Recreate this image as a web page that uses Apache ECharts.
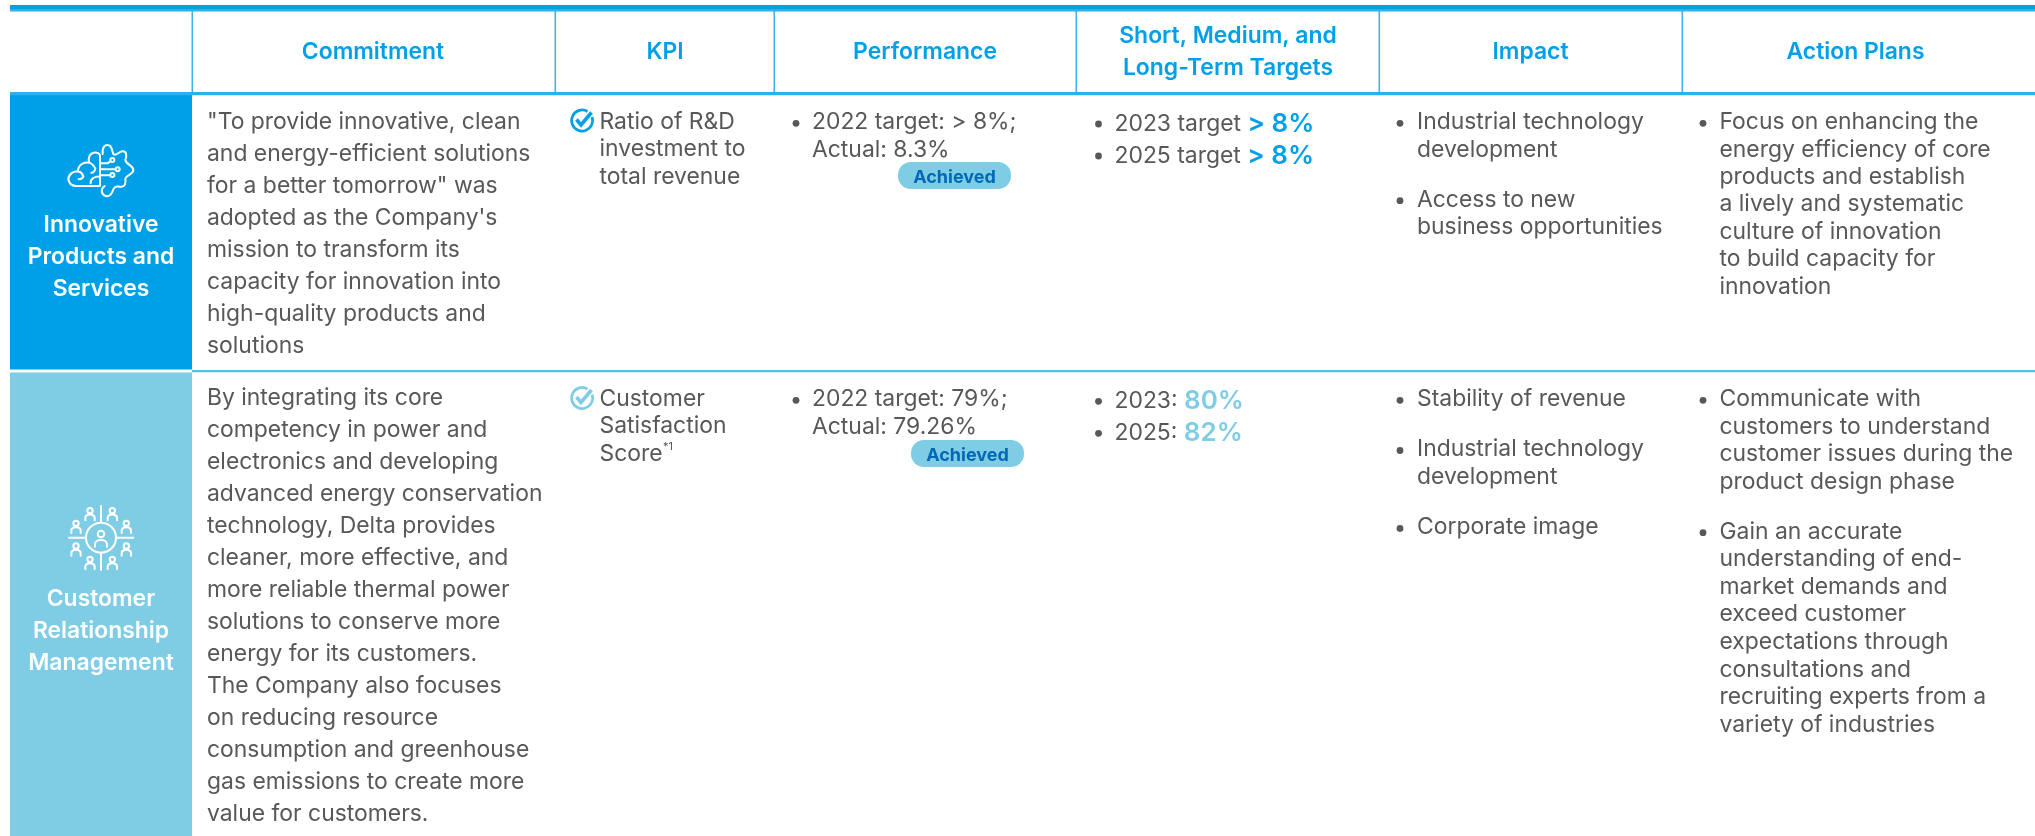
<!DOCTYPE html>
<html><head><meta charset="utf-8">
<style>html,body{margin:0;padding:0;background:#fff}#c{width:2035px;height:836px}</style>
<script src="https://cdn.jsdelivr.net/npm/echarts@6/dist/echarts.min.js"></script>
</head><body><div id="c"></div>
<script>
// ---------- content ----------
const headers = ['Commitment','KPI','Performance',['Short, Medium, and','Long-Term Targets'],'Impact','Action Plans'];
const rowLabels = [['Innovative','Products and','Services'],['Customer','Relationship','Management']];
const commitment1 = ['"To provide innovative, clean','and energy-efficient solutions','for a better tomorrow" was',"adopted as the Company's",'mission to transform its','capacity for innovation into','high-quality products and','solutions'];
const commitment2 = ['By integrating its core','competency in power and','electronics and developing','advanced energy conservation','technology, Delta provides','cleaner, more effective, and','more reliable thermal power','solutions to conserve more','energy for its customers.','The Company also focuses','on reducing resource','consumption and greenhouse','gas emissions to create more','value for customers.'];
const kpi1 = ['Ratio of R&D','investment to','total revenue'];
const kpi2 = ['Customer','Satisfaction','Score'];
const footnoteMark = '*1';
const perf1 = ['2022 target: > 8%;','Actual: 8.3%'];
const perf2 = ['2022 target: 79%;','Actual: 79.26%'];
const badgeText = 'Achieved';
const targets1 = [['2023 target ','> 8%'],['2025 target ','> 8%']];
const targets2 = [['2023: ','80%'],['2025: ','82%']];
const impact1 = [['Industrial technology','development'],['Access to new','business opportunities']];
const impact2 = [['Stability of revenue'],['Industrial technology','development'],['Corporate image']];
const action1 = [['Focus on enhancing the','energy efficiency of core','products and establish','a lively and systematic','culture of innovation','to build capacity for','innovation']];
const action2 = [['Communicate with','customers to understand','customer issues during the','product design phase'],['Gain an accurate','understanding of end-','market demands and','exceed customer','expectations through','consultations and','recruiting experts from a','variety of industries']];

// ---------- styling / layout ----------
const BLUE='#00a0e9', LIGHT='#7fcde5', LINE='#3db2ec', ROWLINE='#55bfee', TXT='#595757', BADGE='#0068b7';
const FF='Inter, "Noto Sans", sans-serif';
const FS=22.9, DY=1.3;
const els=[];
function rect(x,y,w,h,fill,r){els.push({type:'rect',silent:true,shape:{x,y,width:w,height:h,r:r||0},style:{fill}});}
function text(t,x,y,o){o=o||{};
  const st={text:t,x,y:y+DY,fill:o.fill||TXT,textAlign:o.align||'left',textVerticalAlign:'middle',
    font:(o.weight||400)+' '+(o.size||FS)+'px '+FF};
  if(o.rich) st.rich=o.rich;
  els.push({type:'text',silent:true,style:st});
}
function bullet(x,y){els.push({type:'circle',silent:true,shape:{cx:x,cy:y+DY,r:3.4},style:{fill:TXT}});}
function lines(arr,x,y0,lh){arr.forEach((s,i)=>text(s,x,y0+i*lh));}
function bulleted(groups,bx,tx,y0,lh,gap){let y=y0;groups.forEach(g=>{bullet(bx,y+1);g.forEach(s=>{text(s,tx,y);y+=lh;});y+=gap;});}
function targetRows(rows,bx,tx,y0,lh,color){rows.forEach((r,i)=>{const y=y0+i*lh;bullet(bx,y);
  text('{a|'+r[0]+'}{b|'+r[1]+'}',tx,y,{rich:{a:{fontSize:FS,fontFamily:FF,fill:TXT},b:{fontSize:26,fontWeight:600,fontFamily:FF,fill:color}}});});}
function check(cx,cy,color){
  els.push({type:'path',silent:true,shape:{pathData:'M'+(cx+10)+' '+(cy-3.5)+' A10.5 10.5 0 1 1 '+(cx+5.5)+' '+(cy-9)},style:{fill:'none',stroke:color,lineWidth:2.7}});
  els.push({type:'path',silent:true,shape:{pathData:'M'+(cx-5.5)+' '+(cy-1)+' L'+(cx-1)+' '+(cy+4.5)+' L'+(cx+9.5)+' '+(cy-8)},style:{fill:'none',stroke:color,lineWidth:3.6}});
}
function badge(x0,x1,y0,y1){rect(x0,y0,x1-x0,y1-y0,LIGHT,13);text(badgeText,(x0+x1)/2,(y0+y1)/2+.3,{align:'center',weight:700,size:18,fill:BADGE});}
function iconPath(ox,oy,d){els.push({type:'path',silent:true,x:ox,y:oy,scaleX:1/3,scaleY:1/3,shape:{pathData:d},style:{fill:'none',stroke:'#fff',lineWidth:6,lineCap:'round',lineJoin:'round'}});}

// backgrounds
rect(10,93,182,276.5,BLUE);
rect(10,372.5,182,464,LIGHT);
// rules
rect(10,5,2025,4,BLUE); rect(10,9,2025,2.5,'#2db0ec');
rect(10,92,2025,3.2,'#2db0ec');
rect(192,370,1843,2.2,ROWLINE);
[192,555,774,1076,1379,1682].forEach(x=>rect(x-.5,11,1.6,81,LINE));

// header
const hc=[373,665,925,1228,1530.5,1855.5];
headers.forEach((h,i)=>{
  if(Array.isArray(h)){text(h[0],hc[i],35,{align:'center',weight:600,fill:BLUE});text(h[1],hc[i],67,{align:'center',weight:600,fill:BLUE});}
  else text(h,hc[i],51,{align:'center',weight:600,fill:BLUE});
});
// row labels
rowLabels[0].forEach((s,i)=>text(s,101,224+i*32,{align:'center',weight:600,fill:'#fff'}));
rowLabels[1].forEach((s,i)=>text(s,101,598+i*32,{align:'center',weight:600,fill:'#fff'}));

// commitment
lines(commitment1,207,120.7,32); lines(commitment2,207,397.2,32);
// KPI
check(582,120.5,BLUE); lines(kpi1,599.5,120.7,27.6);
check(582,398,LIGHT); lines(kpi2,599.5,397.7,27.5);
text(footnoteMark,663,445,{size:11});
// Performance
bullet(796,122);lines(perf1,812,121,28); badge(898,1011,162,189);
bullet(796,399);lines(perf2,812,398,27.7); badge(911,1024,440,467);
// Targets
targetRows(targets1,1098.5,1114.5,122.7,32,BLUE);
targetRows(targets2,1098.5,1114.5,400,32,LIGHT);
// Impact
bulleted(impact1,1400,1417,121,27.7,22);
bulleted(impact2,1400,1417,398,27.7,22.5);
// Action
bulleted(action1,1703,1719.5,121,27.4,0);
bulleted(action2,1703,1719.5,398,27.6,22);

// icons
iconPath(50,130,
 'M150 75 C142 62 118 66 116 88 C116 92 117 95 118 98 C100 94 84 106 84 124 C62 124 52 142 56 152 C60 164 68 168 78 168 H150 V75 '+
 'M118 98 C124 100 132 108 136 116 M84 124 C92 126 98 132 100 140 M86 148 C90 148 96 148 100 140 M150 140 C136 138 120 146 122 160 M124 128 C130 128 134 124 136 116 '+
 'M150 100 H172 L181 94 M150 118 H196 M150 136 H180 '+
 'M193 90 A6 6 0 1 1 181 90 A6 6 0 1 1 193 90 M209 118 A6 6 0 1 1 197 118 A6 6 0 1 1 209 118 M193 135 A6 6 0 1 1 181 135 A6 6 0 1 1 193 135 '+
 'M158 72 C156 50 166 44 174 45 C186 46 186 62 190 72 C196 80 206 66 216 64 C232 62 230 80 226 90 C228 104 250 106 250 120 C250 134 228 134 226 146 C228 160 226 172 210 170 C198 168 194 170 190 178 C186 194 176 200 168 198 C154 194 150 178 164 168');
const ppl=[[120,32],[187,32],[78,70],[229,70],[78,138],[229,138],[120,178],[187,178]];
let d='M153 18 V68 M153 158 V210 M57 113 H107 M200 113 H250 M198 113 A45 45 0 1 1 108 113 A45 45 0 1 1 198 113 ';
d+='M163 102 A10 10 0 1 1 143 102 A10 10 0 1 1 163 102 M135 140 V132 C135 116 171 116 171 132 V140 ';
ppl.forEach(p=>{const x=p[0],y=p[1];d+='M'+(x+8)+' '+y+' A8 8 0 1 1 '+(x-8)+' '+y+' A8 8 0 1 1 '+(x+8)+' '+y+' M'+(x-14)+' '+(y+29)+' V'+(y+22)+' C'+(x-14)+' '+(y+8)+' '+(x+14)+' '+(y+8)+' '+(x+14)+' '+(y+22)+' V'+(y+29)+' ';});
iconPath(50,500,d);

const chart=echarts.init(document.getElementById('c'),null,{renderer:'canvas'});
chart.setOption({animation:false,backgroundColor:'#fff',
  series:[{type:'custom',coordinateSystem:'none',silent:true,data:[0],
    renderItem:()=>({type:'group',children:els})}]});
</script></body></html>
